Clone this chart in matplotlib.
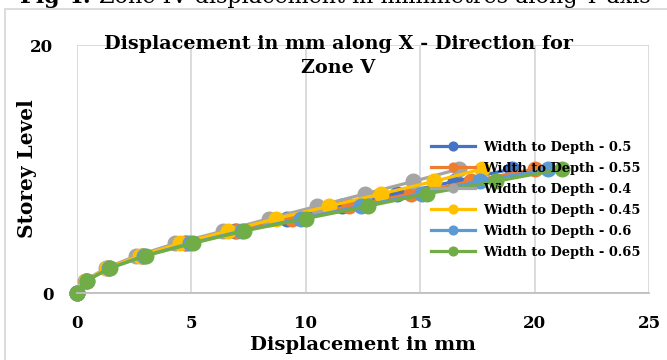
import matplotlib
matplotlib.use('Agg')
import matplotlib.pyplot as plt
from matplotlib.patches import Rectangle

# Storey levels and displacement (mm) per width-to-depth ratio
storeys = [0, 1, 2, 3, 4, 5, 6, 7, 8, 9, 10]
disp_05 = [0, 0.40, 1.35, 2.85, 4.70, 6.90, 9.20, 11.6, 14.0, 16.5, 19.0]
disp_055 = [0, 0.40, 1.38, 2.90, 4.80, 7.00, 9.40, 11.9, 14.6, 17.2, 20.0]
disp_04 = [0, 0.35, 1.25, 2.60, 4.30, 6.40, 8.40, 10.5, 12.6, 14.7, 16.7]
disp_045 = [0, 0.38, 1.30, 2.75, 4.50, 6.60, 8.70, 11.0, 13.3, 15.6, 17.7]
disp_06 = [0, 0.42, 1.42, 2.95, 4.95, 7.20, 9.80, 12.4, 15.1, 17.6, 20.6]
disp_065 = [0, 0.42, 1.44, 3.00, 5.05, 7.30, 10.0, 12.7, 15.3, 18.3, 21.2]

labels = ['Width to Depth - 0.5', 'Width to Depth - 0.55', 'Width to Depth - 0.4',
          'Width to Depth - 0.45', 'Width to Depth - 0.6', 'Width to Depth - 0.65']
series = [disp_05, disp_055, disp_04, disp_045, disp_06, disp_065]
colors = ['#4472C4', '#ED7D31', '#A5A5A5', '#FFC000', '#5B9BD5', '#70AD47']

serif = 'DejaVu Serif'

fig = plt.figure(figsize=(6.67, 3.6), dpi=100)
ax = fig.add_axes([77/667, 1 - 293/360, (649 - 77)/667, (293 - 45)/360])

for d, lab, c in zip(series, labels, colors):
    ax.plot(d, storeys, color=c, lw=2.3, marker='o', ms=10.5, label=lab, clip_on=False)

ax.set_xlim(0, 25)
ax.set_ylim(0, 20)
ax.set_xticks([0, 5, 10, 15, 20, 25])
ax.set_yticks([0, 20])
ax.grid(True, color='#D9D9D9', lw=1.3)
ax.set_axisbelow(True)
for s in ['top', 'right', 'left']:
    ax.spines[s].set_visible(False)
ax.spines['bottom'].set_color('#BFBFBF')
ax.spines['bottom'].set_linewidth(1.3)
ax.tick_params(length=0, labelsize=12)
ax.tick_params(axis='x', pad=16)
ax.tick_params(axis='y', pad=17)
for t in ax.get_xticklabels() + ax.get_yticklabels():
    t.set_fontfamily(serif)
    t.set_fontweight('bold')

ax.set_xlabel('Displacement in mm', fontfamily=serif, fontweight='bold', fontsize=14, labelpad=3)
ax.set_ylabel('Storey Level', fontfamily=serif, fontweight='bold', fontsize=14.5, labelpad=-5)

fig.text(338/667, 1 - 56/360, 'Displacement in mm along X - Direction for\nZone V',
         ha='center', va='center', fontfamily=serif, fontweight='bold', fontsize=13.8,
         linespacing=1.45)

leg = ax.legend(loc='upper left', bbox_to_anchor=(424/667, 1 - 134/360),
                bbox_transform=fig.transFigure, frameon=False, borderpad=0,
                handlelength=3.4, handletextpad=0.6, labelspacing=0.62,
                prop={'family': serif, 'weight': 'bold', 'size': 9.4}, markerscale=0.6)

# partial caption from the page above the chart (cut off at the top edge)
cap1 = fig.text(20/667, 1 - 3/360, 'Fig 4:', ha='left', va='baseline', fontfamily=serif,
                fontweight='bold', fontsize=16)
fig.canvas.draw()
bb = cap1.get_window_extent()
fig.text((bb.x1 + 8)/667, 1 - 3/360, 'Zone IV displacement in millimetres along Y axis',
         ha='left', va='baseline', fontfamily=serif, fontsize=16)

fig.patches.append(Rectangle((5/667, -0.1), 1.2, 1 - 9/360 + 0.1, transform=fig.transFigure,
                             fill=False, edgecolor='#D9D9D9', lw=1.3))

fig.savefig('out.png', dpi=100)
